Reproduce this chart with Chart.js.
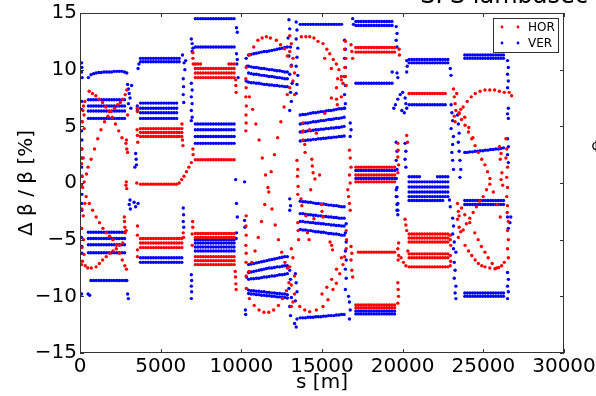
<!DOCTYPE html>
<html><head><meta charset="utf-8">
<script src="https://cdn.jsdelivr.net/npm/chart.js@4.4.1/dist/chart.umd.min.js"></script>
<style>html,body{margin:0;padding:0;background:#fff;}canvas{display:block;}</style>
</head><body>
<canvas id="c" width="596" height="396"></canvas>
<script>
// ---------- axis ticks ----------
const tickX = [0, 5000, 10000, 15000, 20000, 25000, 30000];
const tickY = [-15, -10, -5, 0, 5, 10, 15];
const seriesNames = ['HOR', 'VER'];

// ---------- BPM positions of the regular arcs (s in m) ----------
const s1 = [520,680,840,1000,1160,1320,1480,1640,1800,1960,2120,2280,2440,2600,2760,2900];
const s2 = [3750,3910,4070,4230,4390,4550,4710,4870,5030,5190,5350,5510,5670,5830,5990,6150,6310];
const s3 = [7150,7310,7470,7630,7790,7950,8110,8270,8430,8590,8750,8910,9070,9230,9390,9550];
const s4 = [10450,10610,10770,10930,11090,11250,11410,11570,11730,11890,12050,12210,12370,12530,12690,12850];
const s5 = [13650,13810,13970,14130,14290,14450,14610,14770,14930,15090,15250,15410,15570,15730,15890,16050,16210,16370];
const s6 = [17100,17260,17420,17580,17740,17900,18060,18220,18380,18540,18700,18860,19020,19180,19340,19500];
const s7 = [20400,20560,20720,20880,21040,21200,21360,21520,21680,21840,22000,22160,22320,22480,22640,22800];
const s8 = [23850,24010,24170,24330,24490,24650,24810,24970,25130,25290,25450,25610,25770,25930,26090,26250];

// ---------- HOR: flat rows [y, sFrom, sTo] ----------
const horRows2 = [[4.1,3750,6310],[4.45,3750,6310],[4.8,3750,6310],[-0.1,3750,5990],[-4.9,3750,6310],[-5.3,3750,6310],[-5.7,3750,6310]];
const horRows3 = [[10.5,7150,7470],[10.5,9230,9550],[10.1,7150,9550],[9.7,7150,9550],[9.3,7150,9550],[2.05,7150,9550],[-4.45,7150,9550],[-4.8,7150,9550],[-6.5,7150,9550],[-6.85,7150,9550],[-7.2,7150,9550]];
const horRows6 = [[11.95,17100,19500],[11.55,17100,19500],[1.4,17100,19500],[0.7,17100,19500],[0.1,17100,19500],[-6.1,17260,19500],[-10.75,17100,19500],[-11.0,17100,19500]];
const horRows7 = [[7.9,20400,22640],[-4.5,20400,22800],[-4.85,20400,22800],[-5.2,20400,22800],[-6.25,20400,22800],[-6.6,20400,22800],[-7.4,20400,22800]];

// ---------- HOR: curves and scattered points [s, y] ----------
const horEdge1 = [[300,7.2],[220,6.8],[180,6.4],[250,6.0],[150,5.4],[260,4.8],[130,3.0],[200,2.2],[100,1.7],[120,0.6],[260,0.1],[160,-0.4],[60,-0.2],[300,-1.8],[110,-2.3],[200,-2.9],[100,-4.0],[220,-5.0],[120,-5.7],[250,-6.3],[150,-6.9],[330,-7.3],[100,-7.2]];
const horArc1a = [[570,8.1],[775,7.9],[980,7.7],[1190,7.4],[1400,7.1],[1600,6.7],[1800,6.3],[2000,5.8],[2200,5.2],[2400,4.6],[2600,4.0],[2850,3.5]];
const horArc1b = [[400,0.8],[500,1.4],[690,2.1],[900,3.0],[1100,3.9],[1300,4.7],[1520,5.4],[1730,5.9],[1930,6.3],[2140,6.6],[2340,6.9],[2500,7.1],[2650,7.4],[2800,7.8],[2900,8.2]];
const horArc1c = [[480,-7.5],[700,-7.5],[1000,-7.4],[1200,-7.1],[1400,-6.8],[1625,-6.5],[1850,-6.2],[2050,-6.0],[2250,-5.8],[2450,-5.5],[2650,-5.3]];
const horArc1d = [[385,-1.2],[580,-1.8],[780,-2.4],[1000,-3.0],[1210,-3.5],[1420,-4.0],[1625,-4.4],[1830,-4.7],[2040,-5.0],[2250,-5.5],[2450,-6.2],[2620,-6.8],[2780,-7.3],[2880,-7.6]];
const horEnd1 = [[2750,-3.0],[2760,-3.4],[2780,-3.9],[2800,-4.4],[2850,-0.2],[2870,0.1],[2900,-0.5],[2900,3.0],[2950,2.7],[2880,3.8],[2950,6.0],[2860,-4.2]];
const horExtra2 = [[3550,6.6],[3560,6.3],[3540,4.7],[3560,4.2],[3580,3.6],[3520,0.0],[3560,-3.8],[3560,-4.6],[3560,-5.9],[3560,-6.5],[6350,3.8],[6380,3.3],[6320,5.2],[6400,-4.4],[6420,-4.8],[6150,0.0],[6300,0.3],[6450,0.6],[6600,1.0],[6750,1.4],[6900,1.8]];
const horExtra3 = [[7000,11.5],[7000,11.0],[7020,10.5],[7000,3.0],[7010,2.5],[6980,-3.4],[6990,-3.9],[6950,-4.5],[6960,-5.5],[9650,9.1],[9660,8.6],[9680,8.0],[9620,-7.8],[9640,-8.3],[9660,-8.9],[9680,-9.4]];
const horArc4Top = [[10300,10.2],[10510,11.3],[10770,12.0],[11030,12.6],[11290,12.8],[11550,12.9],[11800,12.8],[12170,12.6],[12430,12.2],[12690,11.85],[12850,11.2]];
const horX4a = [[10500,7.6],[10700,6.5],[10900,5.2],[11100,3.8],[11300,2.2],[11500,0.7],[11700,-0.8],[11900,-2.3],[12100,-3.7],[12300,-5.0],[12500,-6.1],[12700,-7.0],[12850,-7.5]];
const horX4b = [[12850,7.8],[12650,6.7],[12450,5.4],[12250,4.0],[12050,2.5],[11850,1.0],[11650,-0.4],[11450,-1.9],[11250,-3.4],[11050,-4.8],[10850,-6.0],[10650,-7.0],[10480,-7.8]];
const horLeft4 = [[10280,9.2],[10300,8.4],[10280,7.6],[10310,6.8],[10290,6.0],[10300,5.3],[10280,4.6],[10300,-2.9],[10290,-3.8],[10300,-4.6],[10280,-5.5],[10300,-6.2],[10290,-7.0],[10300,-8.2],[10310,-9.3]];
const horArc4Bot = [[10500,-10.2],[10800,-10.8],[11100,-11.2],[11400,-11.4],[11700,-11.4],[12000,-11.2],[12300,-10.8],[12550,-10.2],[12800,-9.5],[12950,-8.8]];
const horCol45 = [[13000,13.0],[13100,12.3],[13000,11.6],[13200,11.0],[13100,10.3],[13300,9.7],[13200,9.0],[13000,8.4],[13300,7.8],[13100,-5.8],[13200,-6.6],[13000,-7.4],[13300,-8.2],[13100,-9.0],[13300,-9.8],[13200,-10.5],[13100,-10.9],[13450,2.0],[13500,1.2],[13480,0.6],[13520,-0.3],[13500,-1.0]];
const horArc5Top = [[13720,12.9],[14000,12.9],[14240,12.9],[14500,12.8],[14750,12.5],[15060,12.3],[15300,11.8],[15480,11.4],[15700,10.9],[15890,10.5],[16050,10.0],[16200,9.4],[16300,8.8]];
const horInner5 = [[15170,11.0],[15580,10.1],[15970,9.2],[16200,7.6]];
const horRise5 = [[13800,4.5],[14240,4.7],[14650,4.4],[15170,6.15],[15580,7.5],[15900,8.4],[16200,9.1]];
const horMid5 = [[13820,5.3],[13830,4.6],[13820,3.8],[13930,3.4],[13950,2.7],[14370,2.1],[14400,1.5],[14450,0.9],[14560,0.35],[13700,-1.4],[13750,-2.0],[14980,-1.9],[15000,-2.5],[14850,0.7],[14300,-0.6],[14000,-2.9],[14500,-3.15],[15600,-5.5],[15060,-3.0],[15500,-5.2],[15650,-5.9],[13500,-3.5],[13520,-4.2],[13550,-5.0],[14100,-4.4],[14200,-5.0],[15900,7.4],[15950,6.9]];
const horArc5Bot = [[13620,-10.9],[13930,-11.2],[14240,-11.35],[14650,-11.2],[15060,-10.9],[15370,-10.3],[15680,-9.4],[15890,-8.85],[16100,-8.0],[16300,-7.2],[16400,-6.5]];
const horInner5Bot = [[15000,-9.8],[15300,-9.2],[15600,-8.5],[15900,-7.6],[16200,-6.6]];
const horCol56 = [[16450,12.5],[16400,11.8],[16480,11.0],[16420,10.2],[16450,9.4],[16500,8.6],[16800,12.2],[16850,11.6],[16900,11.0],[16700,2.9],[16750,2.2],[16800,1.4],[16700,0.7],[16750,0.0],[16600,-0.6],[16650,-1.2],[16700,-1.8],[16750,-2.4],[16800,-5.6],[16850,-6.2],[16800,-6.8],[16850,-7.7],[16900,-8.3],[16500,-4.2],[16520,-5.0],[16500,-5.8]];
const horExtra6 = [[19700,3.5],[19720,2.9],[19700,2.3],[19750,1.6],[19700,0.9],[19750,-5.3],[19700,-5.8],[19750,-6.4],[19720,-6.8],[19700,-8.8],[19720,-9.4],[19740,-10.0],[19700,-10.6],[19800,11.3],[19780,11.8]];
const horExtra7 = [[19900,-6.6],[20050,-7.0],[20200,-7.3],[20150,-3.2],[20200,-3.7],[20250,-4.2],[20250,4.2],[20300,3.6],[20320,-6.0],[22950,-4.6],[22950,-5.0],[22980,-5.5],[22950,-6.4],[22970,-6.9],[22950,-7.3]];
const horCol78 = [[23150,8.3],[23200,7.6],[23250,7.0],[23300,6.4],[23200,5.9],[23350,7.9],[23400,-1.8],[23450,-2.5],[23400,-3.2],[23500,-3.9],[23450,-4.8],[23500,-2.9]];
const horArc8A = [[23250,5.4],[23500,6.1],[23750,6.7],[24000,7.2],[24250,7.6],[24500,7.9],[24800,8.1],[25100,8.2],[25400,8.2],[25700,8.2],[26000,8.1],[26300,8.0],[26600,8.0],[26750,7.7]];
const horArc8B = [[23500,6.2],[23650,5.6],[23870,5.1],[24080,4.5],[24280,3.9],[24490,3.3],[24690,2.7],[24900,2.1],[25100,1.6],[25260,1.0],[25410,0.4],[25620,-0.8],[25850,-1.9],[26050,-3.0]];
const horArc8B2 = [[23600,6.5],[23850,5.8],[24100,4.9],[24350,4.0]];
const horArc8C = [[23750,-4.15],[23950,-3.6],[24160,-3.1],[24370,-2.6],[24570,-2.1],[24780,-1.6],[24990,-1.2],[25200,-0.6],[25400,-0.1]];
const horArc8D = [[23600,-4.3],[23870,-5.5],[24080,-6.0],[24280,-6.4],[24490,-6.8],[24690,-7.1],[24900,-7.3],[25100,-7.4],[25400,-7.5],[25720,-7.56],[25950,-7.45],[26130,-7.3],[26300,-7.0]];
const horArc8E = [[23650,-2.2],[23850,-2.8],[24160,-3.5],[24470,-4.4],[24680,-5.0],[24880,-5.6],[25100,-6.1],[25300,-6.6],[25550,-7.1],[25820,-7.5]];
const horCol8 = [[26000,3.2],[26100,2.6],[26050,2.1],[26150,0.9],[26100,0.3],[26200,-0.2],[26400,3.9],[26450,3.0],[26400,2.2],[26500,1.4],[26450,0.5],[26500,-0.4],[26450,-1.2],[26500,-2.0],[26480,-2.6],[26550,-3.4],[26500,-4.2],[26550,-5.0],[26500,-5.8],[26550,-6.6]];

// ---------- VER: flat rows [y, sFrom, sTo] ----------
const verRows1 = [[7.35,520,2760],[6.8,520,2760],[6.35,520,2760],[5.7,520,2760],[-4.35,520,2760],[-4.9,520,2760],[-5.45,520,2760],[-6.15,520,2760],[-8.6,680,2900]];
const verRows2 = [[11.0,3750,6150],[10.7,3750,6150],[7.05,3750,5990],[6.6,3750,5990],[6.2,3750,5990],[5.7,3750,5990],[-6.6,3750,6310],[-7.0,3750,6310]];
const verRows3 = [[14.5,7150,9550],[12.0,7150,9550],[5.2,7150,9550],[4.7,7150,9550],[4.1,7150,9550],[3.5,7150,9550],[-5.0,7150,9550],[-5.3,7150,9550],[-5.65,7150,9550],[-6.0,7150,9550]];
const verRows5 = [[14.0,13650,16210]];
const verRows6 = [[14.25,17100,19340],[13.9,17100,19340],[8.8,17100,19340],[1.1,17100,19500],[0.4,17100,19500],[-11.3,17100,19500],[-11.55,17100,19500]];
const verRows7 = [[10.9,20400,22800],[10.6,20400,22800],[6.9,20400,22640],[0.55,20400,21040],[0.55,22160,22800],[0.1,20400,22800],[-0.35,20400,22800],[-0.8,20400,22800],[-1.2,20400,22800],[-1.55,20400,22480]];
const verRows8 = [[11.3,23850,26250],[11.0,23850,26250],[-1.55,23850,26250],[-1.9,23850,26250],[-9.7,23850,26250],[-10.0,23850,26250]];

// ---------- VER: tilted rows (one value per BPM of the arc) ----------
const verTilt1 = [[9.3,9.55,9.65,9.7,9.75,9.75,9.8,9.8,9.8,9.8,9.85,9.85,9.85,9.85,9.8,9.7]];
const verTilt4 = [
  [11.3,11.35,11.4,11.45,11.5,11.55,11.6,11.6,11.65,11.7,11.75,11.8,11.85,11.9,11.95,12.0],
  [10.3,10.25,10.2,10.2,10.15,10.1,10.1,10.05,10.0,10.0,9.95,9.9,9.9,9.85,9.8,9.8],
  [9.7,9.65,9.6,9.6,9.55,9.5,9.5,9.45,9.4,9.4,9.35,9.3,9.3,9.25,9.2,9.2],
  [8.9,8.85,8.85,8.8,8.8,8.75,8.7,8.7,8.65,8.65,8.6,8.6,8.55,8.55,8.5,8.5],
  [-7.2,-7.15,-7.1,-7.05,-7.0,-6.95,-6.9,-6.85,-6.8,-6.75,-6.7,-6.65,-6.6,-6.55,-6.5,-6.5],
  [-7.9,-7.85,-7.8,-7.75,-7.7,-7.65,-7.6,-7.55,-7.5,-7.5,-7.45,-7.4,-7.4,-7.35,-7.3,-7.3],
  [-8.5,-8.45,-8.45,-8.4,-8.4,-8.35,-8.3,-8.3,-8.25,-8.2,-8.2,-8.15,-8.1,-8.1,-8.05,-8.0],
  [-9.45,-9.5,-9.5,-9.55,-9.55,-9.6,-9.6,-9.65,-9.65,-9.7,-9.7,-9.75,-9.75,-9.8,-9.8,-9.85],
  [-9.75,-9.8,-9.8,-9.85,-9.85,-9.9,-9.9,-9.95,-9.95,-10.0,-10.0,-10.05,-10.05,-10.1,-10.1,-10.15]
];
const verTilt5 = [
  [6.0,6.05,6.05,6.1,6.15,6.2,6.2,6.25,6.3,6.3,6.35,6.4,6.4,6.45,6.5,6.55,6.55,6.6],
  [5.2,5.25,5.3,5.3,5.35,5.4,5.4,5.45,5.5,5.5,5.55,5.6,5.6,5.65,5.7,5.7,5.75,5.8],
  [4.5,4.55,4.55,4.6,4.6,4.65,4.7,4.7,4.75,4.75,4.8,4.8,4.85,4.85,4.9,4.9,4.95,5.0],
  [3.7,3.75,3.75,3.8,3.8,3.85,3.85,3.9,3.9,3.95,3.95,4.0,4.0,4.05,4.05,4.1,4.1,4.15],
  [-1.6,-1.65,-1.65,-1.7,-1.7,-1.75,-1.8,-1.8,-1.85,-1.85,-1.9,-1.95,-1.95,-2.0,-2.0,-2.05,-2.1,-2.1],
  [-2.7,-2.7,-2.75,-2.8,-2.8,-2.85,-2.85,-2.9,-2.9,-2.95,-2.95,-3.0,-3.0,-3.05,-3.05,-3.1,-3.1,-3.1],
  [-3.4,-3.4,-3.45,-3.45,-3.5,-3.5,-3.55,-3.55,-3.6,-3.6,-3.65,-3.65,-3.7,-3.7,-3.75,-3.75,-3.8,-3.8],
  [-4.1,-4.15,-4.15,-4.2,-4.2,-4.25,-4.3,-4.3,-4.35,-4.35,-4.4,-4.45,-4.45,-4.5,-4.5,-4.55,-4.6,-4.6],
  [-11.9,-11.9,-11.9,-11.85,-11.85,-11.85,-11.8,-11.8,-11.8,-11.75,-11.75,-11.7,-11.7,-11.7,-11.65,-11.65,-11.6,-11.6]
];
const verTilt8 = [[2.7,2.7,2.75,2.75,2.8,2.8,2.85,2.85,2.9,2.9,2.95,2.95,3.0,3.0,3.05,3.1]];

// ---------- VER: scattered points [s, y] ----------
const verEdge1 = [[100,10.6],[120,10.2],[90,9.8],[130,9.3],[110,7.2],[100,6.5],[110,5.4],[100,4.6],[120,3.8],[90,3.0],[110,2.2],[100,1.4],[130,0.6],[90,-0.2],[120,-1.0],[100,-1.8],[110,-2.4],[100,-4.0],[90,-4.8],[110,-5.6],[120,-6.2],[100,-9.8],[600,-9.9],[500,-9.8]];
const verEnd1 = [[2950,8.7],[3000,8.3],[3050,7.9],[3100,7.5],[3000,7.0],[3150,6.6],[3200,8.6],[3100,-1.5],[3050,-1.9],[3120,-2.3],[2950,-9.8],[3000,-10.2]];
const verExtra2 = [[3450,2.6],[3480,2.1],[3500,1.6],[3400,1.4],[3350,-1.7],[3450,-2.1],[3600,-1.8],[3600,10.1],[3650,10.5],[6400,9.2],[6420,8.5],[6400,7.8],[6430,7.1],[6350,11.3],[6450,10.6],[6500,10.0],[6550,10.8],[6400,-2.2],[6420,-2.8],[6400,-3.4],[6430,-3.9],[3550,6.8],[3560,6.4]];
const verExtra3 = [[6900,12.7],[6950,12.3],[7000,11.9],[6950,11.6],[6900,8.8],[6950,8.2],[6900,7.6],[6950,7.0],[6900,6.4],[6950,5.8],[6900,5.5],[6900,-8.1],[6920,-8.6],[6900,-9.1],[6920,-9.6],[6900,-10.2],[9700,13.7],[9750,13.3],[9700,11.4],[9750,10.9],[9720,10.5],[9800,9.3],[9700,-1.8],[9750,-3.0],[9650,0.3],[9700,-4.4],[9680,-4.9]];
const verExtra4 = [[10200,-3.3],[10220,-3.9],[10250,-11.2],[10270,-11.6],[10200,0.1],[10300,11.0],[10350,10.3],[10300,9.0],[10320,-8.3]];
const verCol45 = [[12950,14.4],[13000,13.6],[12900,12.8],[13050,12.0],[12950,11.2],[13100,10.4],[13000,9.6],[13150,8.8],[13050,8.0],[13100,7.2],[13000,6.4],[13400,14.2],[13450,13.5],[13400,12.7],[13500,11.9],[13450,11.1],[13400,10.3],[13500,9.5],[13450,8.7],[13400,7.9],[13000,-1.4],[13050,-2.0],[13000,-2.4],[13000,-7.7],[13050,-8.5],[12950,-9.3],[13100,-10.1],[13000,-10.9],[13050,-11.7],[13300,-12.4],[13400,-12.7],[13450,-12.0],[13350,-8.0],[13400,-8.8],[13450,-9.6],[13350,-10.4]];
const verCol5 = [[16400,12.6],[16450,11.8],[16400,11.0],[16450,10.2],[16400,9.4],[16450,8.6],[16400,7.8],[16450,7.0],[16400,6.6],[16500,-3.6],[16450,-4.4],[16500,-5.2],[16450,-6.0],[16500,-6.8],[16450,-7.6],[16500,-8.4],[16450,-9.4],[16700,-10.5],[16750,-11.2],[16700,-12.0],[16650,-10.0],[16750,5.3],[16800,4.7],[16750,4.1]];
const verExtra6 = [[19650,9.7],[19700,9.3],[19600,13.8],[19650,13.2],[19600,12.6],[19650,12.0],[19600,-0.6],[19650,-1.2],[19700,-1.8],[19650,-2.4],[19700,-2.8],[16900,14.5],[16950,14.0]];
const verExtra7 = [[19450,6.6],[19550,6.9],[19700,7.4],[19850,7.8],[20000,8.0],[20150,7.5],[20200,7.0],[20250,6.6],[19950,6.4],[20100,6.2],[19600,3.6],[19650,2.8],[19600,2.0],[19650,1.2],[19600,0.4],[19650,-0.4],[19600,-1.2],[19650,-1.9],[20150,3.5],[20200,2.8],[20150,2.1],[20200,1.4],[19700,-2.4],[20250,10.8],[20280,10.3],[20250,9.8],[19350,9.8],[22950,10.1],[23000,9.5],[22900,-1.5],[22950,-2.1]];
const verCol78 = [[23000,6.9],[23050,6.2],[23100,5.5],[23000,4.8],[23150,4.1],[23100,3.4],[23050,2.7],[23100,2.0],[23150,1.2],[23400,6.0],[23450,5.2],[23500,4.4],[23450,3.6],[23500,2.8],[23550,2.0],[23600,1.2],[23550,0.5],[23100,-3.1],[23150,-3.8],[23100,-4.5],[23200,-5.2],[23150,-5.8],[23300,-6.1],[23200,-7.0],[23250,-7.7],[23200,-8.4],[23300,-9.1],[23250,-9.7],[23300,-10.2]];
const verCol8 = [[26500,10.8],[26550,10.2],[26500,9.6],[26550,9.0],[26500,8.4],[26550,6.6],[26500,6.1],[26550,5.7],[26500,3.9],[26550,3.2],[26500,2.5],[26550,1.8],[26500,-3.0],[26550,-4.0],[26500,-7.9],[26550,-8.5],[26500,-9.1],[26550,-9.6],[26500,-10.2],[26700,-3.0],[26650,-3.5]];

// ---------- build point lists ----------
function flatRows(sList, rows) {
  const out = [];
  rows.forEach(([y, a, b]) => sList.forEach(s => { if (s >= a && s <= b) out.push({x: s, y: y}); }));
  return out;
}
function tiltRows(sList, rows) {
  const out = [];
  rows.forEach(r => r.forEach((y, i) => out.push({x: sList[i], y: y})));
  return out;
}
function pairs(...lists) {
  const out = [];
  lists.forEach(l => l.forEach(([s, y]) => out.push({x: s, y: y})));
  return out;
}

const horData = [].concat(
  flatRows(s2, horRows2), flatRows(s3, horRows3), flatRows(s6, horRows6), flatRows(s7, horRows7),
  pairs(horEdge1, horArc1a, horArc1b, horArc1c, horArc1d, horEnd1, horExtra2, horExtra3,
        horArc4Top, horX4a, horX4b, horLeft4, horArc4Bot, horCol45, horArc5Top, horInner5, horRise5,
        horMid5, horArc5Bot, horInner5Bot, horCol56, horExtra6, horExtra7, horCol78,
        horArc8A, horArc8B, horArc8B2, horArc8C, horArc8D, horArc8E, horCol8)
);
const verData = [].concat(
  flatRows(s1, verRows1), flatRows(s2, verRows2), flatRows(s3, verRows3), flatRows(s5, verRows5),
  flatRows(s6, verRows6), flatRows(s7, verRows7), flatRows(s8, verRows8),
  tiltRows(s1, verTilt1), tiltRows(s4, verTilt4), tiltRows(s5, verTilt5), tiltRows(s8, verTilt8),
  pairs(verEdge1, verEnd1, verExtra2, verExtra3, verExtra4, verCol45, verCol5, verExtra6, verExtra7, verCol78, verCol8)
);

const FONT = 'DejaVu Sans';
const fmt = v => (v < 0 ? '\u2212' + Math.abs(v) : String(v));

// frame, inward ticks, legend and clipped title
const decor = {
  id: 'decor',
  afterDatasetsDraw(chart) {
    const {ctx, chartArea: a, scales: {x, y}} = chart;
    ctx.save();
    ctx.strokeStyle = '#333';
    ctx.lineWidth = 1;
    ctx.strokeRect(a.left + 0.5, a.top + 0.5, a.right - a.left - 1, a.bottom - a.top - 1);
    ctx.beginPath();
    tickX.forEach(v => {
      const px = Math.round(x.getPixelForValue(v)) + 0.5;
      ctx.moveTo(px, a.bottom); ctx.lineTo(px, a.bottom - 4);
      ctx.moveTo(px, a.top); ctx.lineTo(px, a.top + 4);
    });
    tickY.forEach(v => {
      const py = Math.round(y.getPixelForValue(v)) + 0.5;
      ctx.moveTo(a.left, py); ctx.lineTo(a.left + 4, py);
      ctx.moveTo(a.right, py); ctx.lineTo(a.right - 4, py);
    });
    ctx.stroke();

    // legend
    const lx = 493, ly = 18, lw = 65, lh = 34;
    ctx.fillStyle = '#fff';
    ctx.fillRect(lx, ly, lw, lh);
    ctx.strokeStyle = '#333';
    ctx.strokeRect(lx + 0.5, ly + 0.5, lw, lh);
    const cols = ['rgb(255,0,0)', 'rgb(0,0,255)'];
    seriesNames.forEach((name, i) => {
      const cy = ly + 9 + i * 16;
      ctx.fillStyle = cols[i];
      [502, 518].forEach(cx => { ctx.beginPath(); ctx.arc(cx, cy, 1.4, 0, Math.PI * 2); ctx.fill(); });
      ctx.fillStyle = '#000';
      ctx.font = '12px ' + FONT;
      ctx.textAlign = 'left';
      ctx.textBaseline = 'middle';
      ctx.fillText(name, 528, cy + 0.5);
    });

    // title (cut off by the top edge in the reference)
    ctx.font = '24px ' + FONT;
    ctx.textAlign = 'right';
    ctx.textBaseline = 'alphabetic';
    ctx.fillStyle = '#000';
    ctx.fillText('SPS lambasec', 588, 3);
    ctx.font = '14px ' + FONT;
    ctx.textAlign = 'left';
    ctx.fillText('\u00a2', 591, 150);
    ctx.restore();
  }
};

new Chart(document.getElementById('c'), {
  type: 'scatter',
  data: {
    datasets: [
      {label: seriesNames[0], data: horData, backgroundColor: 'rgb(255,0,0)', borderWidth: 0, pointRadius: 1.7, pointHoverRadius: 1.7},
      {label: seriesNames[1], data: verData, backgroundColor: 'rgb(0,0,255)', borderWidth: 0, pointRadius: 1.7, pointHoverRadius: 1.7}
    ]
  },
  options: {
    responsive: false,
    animation: false,
    devicePixelRatio: 1,
    layout: {padding: {top: 13, right: 32, left: 0, bottom: 0}},
    plugins: {legend: {display: false}, tooltip: {enabled: false}, title: {display: false}},
    scales: {
      x: {
        type: 'linear', min: 0, max: 30000,
        afterBuildTicks: s => { s.ticks = tickX.map(v => ({value: v})); },
        afterFit: s => { s.height = 43; s.paddingLeft = 0; s.paddingRight = 0; },
        grid: {display: false, drawTicks: false},
        border: {display: false},
        ticks: {font: {family: FONT, size: 20}, color: '#000', padding: 2, maxRotation: 0, autoSkip: false, callback: v => fmt(v)},
        title: {display: true, text: 's [m]', font: {family: FONT, size: 20}, color: '#000', padding: {top: 0, bottom: 1}}
      },
      y: {
        type: 'linear', min: -15, max: 15,
        afterBuildTicks: s => { s.ticks = tickY.map(v => ({value: v})); },
        afterFit: s => { s.width = 80; s.paddingTop = 0; s.paddingBottom = 0; },
        grid: {display: false, drawTicks: false},
        border: {display: false},
        ticks: {font: {family: FONT, size: 20}, color: '#000', padding: 3, autoSkip: false, callback: v => fmt(v)},
        title: {display: true, text: '\u0394 \u03b2 / \u03b2 [%]', font: {family: FONT, size: 20}, color: '#000', padding: {top: 15, bottom: 0}}
      }
    }
  },
  plugins: [decor]
});
</script>
</body></html>
